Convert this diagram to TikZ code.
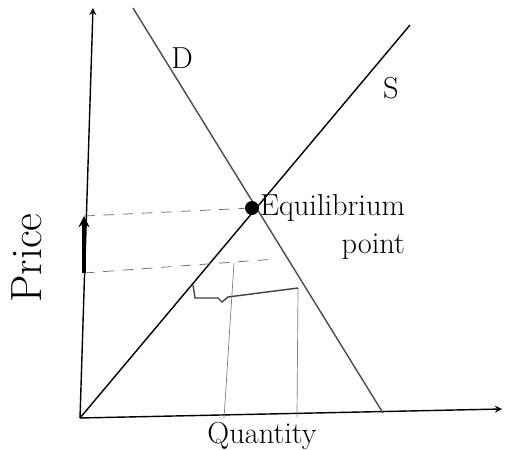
\documentclass[tikz,border=0pt]{standalone}
\usepackage{tikz}
\usetikzlibrary{arrows, positioning, calc}

\begin{document}
\begin{tikzpicture}[
        x=0.02cm, y=-0.02cm,
        axis/.style={thick, ->, >=stealth},
        curve/.style={thick},
        guide/.style={gray!80!black, dashed, dash pattern=on 6pt off 5pt},
        drop/.style={gray},
        lbl/.style={font=\LARGE, inner sep=1pt}
    ]
        \useasboundingbox (0,0) rectangle (505,450);
        \fill[white] (0,0) rectangle (505,450);

        % axes
        \coordinate (O) at (80,418);
        \coordinate (Ytop) at (93,8);
        \coordinate (Xend) at (502,409);
        \draw[axis] (O) -- (Ytop);
        \draw[axis] (O) -- (Xend);

        % supply and demand
        \coordinate (Stop) at (410,25);
        \coordinate (Dtop) at (133,8);
        \coordinate (Dbot) at (383,413);
        \draw[curve] (O) -- (Stop);
        \draw[curve, gray!60!black] (Dtop) -- (Dbot);
        \node[lbl] (Dlab) at (182,58) {D};
        \node[lbl] (Slab) at (391,88) {S};

        % equilibrium
        \node[circle, fill, inner sep=2.8pt] (E) at (252,208) {};
        \node[lbl, anchor=north west, align=right] (Elab) at (258,192) {Equilibrium\\point};

        % price levels
        \coordinate (Pe) at (84,216);
        \coordinate (Pl) at (84,273);
        \coordinate (Ql) at (276,259);
        \draw[guide] (Pe) -- (E);
        \draw[guide] (Pl) -- (Ql);
        \draw[line width=1.8pt, ->, >=stealth] (Pl) -- (Pe);

        % quantities at lower price
        \coordinate (Qs) at (234,263);
        \coordinate (Qd) at (298,288);
        \coordinate (Qs0) at (224,418);
        \coordinate (Qd0) at (297,417);
        \draw[drop] (Qs) -- (Qs0);
        \draw[drop] (Qd) -- (Qd0);

        % shortage bracket
        \coordinate (Bl) at (193,285);
        \draw[thick, gray!50!black] (Bl) -- ++(2,13) -- (218,298) -- (222,302) -- (228,297) -- (Qd);

        % axis labels
        \node[lbl, font=\Huge, rotate=90] (Price) at (27,258) {Price};
        \node[lbl, font=\LARGE] (Qty) at (262,436) {Quantity};
    \end{tikzpicture}
\end{document}
